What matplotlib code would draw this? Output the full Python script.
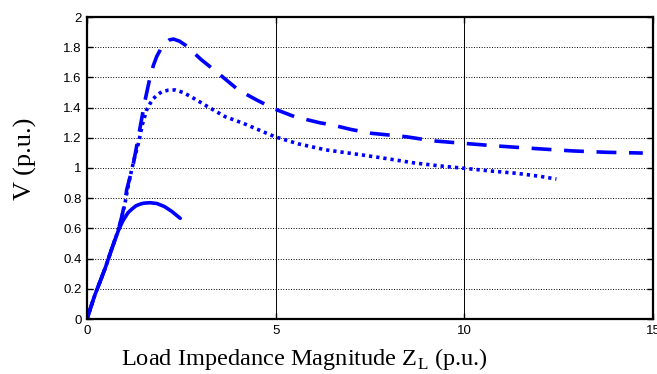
import matplotlib
matplotlib.use("Agg")
import matplotlib.pyplot as plt

# curves (x = |Z_L| in p.u., y = V in p.u.)
solid_x = [0, 0.1, 0.21, 0.35, 0.48, 0.65, 0.83, 0.95, 1.09, 1.2, 1.3, 1.4, 1.5, 1.67,
           1.85, 2.05, 2.25, 2.47]
solid_y = [0, 0.08, 0.16, 0.25, 0.335, 0.46, 0.585, 0.65, 0.705, 0.73, 0.75, 0.76, 0.767, 0.77,
           0.765, 0.745, 0.712, 0.667]

dash_x = [0, 0.21, 0.48, 0.65, 0.83, 0.92, 1.01, 1.05, 1.15, 1.23, 1.32, 1.43, 1.54, 1.67,
          1.76, 1.85, 1.96, 2.07, 2.18, 2.29, 2.45, 2.6, 3.04, 3.48, 4.01, 4.5, 4.98, 5.5,
          6.16, 6.5, 7.0, 7.53, 8.46, 9.16, 10.0, 10.75, 11.38, 12.17, 12.88, 13.77, 14.73]
dash_y = [0, 0.16, 0.335, 0.46, 0.59, 0.677, 0.777, 0.854, 0.95, 1.03, 1.15, 1.3, 1.45, 1.6,
          1.68, 1.74, 1.79, 1.826, 1.848, 1.854, 1.84, 1.815, 1.715, 1.627, 1.517, 1.45, 1.39, 1.34,
          1.30, 1.285, 1.255, 1.23, 1.207, 1.18, 1.163, 1.148, 1.137, 1.124, 1.113, 1.104, 1.099]

dot_x = [0, 0.21, 0.48, 0.65, 0.83, 0.92, 1.01, 1.06, 1.15, 1.25, 1.36, 1.47, 1.58, 1.68,
         1.76, 1.87, 1.98, 2.15, 2.33, 2.55, 2.77, 3.21, 3.66, 4.14, 4.98, 5.6, 6.33, 7.3,
         8.0, 8.63, 9.3, 10.0, 10.7, 11.38, 12.0, 12.44]
dot_y = [0, 0.16, 0.335, 0.46, 0.59, 0.67, 0.77, 0.84, 0.95, 1.06, 1.16, 1.29, 1.384, 1.43,
         1.46, 1.485, 1.505, 1.515, 1.517, 1.5, 1.47, 1.405, 1.34, 1.296, 1.207, 1.16, 1.12, 1.086,
         1.06, 1.035, 1.015, 0.998, 0.98, 0.965, 0.945, 0.927]

x_ticks = [0, 5, 10, 15]
y_ticks = [0, 0.2, 0.4, 0.6, 0.8, 1, 1.2, 1.4, 1.6, 1.8, 2]
y_ticklabels = ["0", "0.2", "0.4", "0.6", "0.8", "1", "1.2", "1.4", "1.6", "1.8", "2"]

plt.rcParams["mathtext.fontset"] = "custom"
plt.rcParams["mathtext.rm"] = "Liberation Serif"

fig = plt.figure(figsize=(6.57, 3.74), dpi=100)
ax = fig.add_axes([87 / 657, 1 - 319 / 374, 566 / 657, 302 / 374])

blue = "#0000ff"
ax.plot(solid_x, solid_y, color=blue, linewidth=2.6, solid_capstyle="round",
        solid_joinstyle="round")
ax.plot(dash_x, dash_y, color=blue, linewidth=2.6, linestyle=(0, (5.5, 3.5)),
        dash_joinstyle="round")
ax.plot(dot_x, dot_y, color=blue, linewidth=2.6, linestyle=(0, (0.9, 1.1)))

ax.set_xlim(0, 15)
ax.set_ylim(0, 2)
ax.set_xticks(x_ticks)
ax.set_yticks(y_ticks)
ax.set_yticklabels(y_ticklabels)

# grid: dotted horizontal, solid vertical
ax.grid(True, axis="y", linestyle=":", color="black", linewidth=0.7)
ax.grid(True, axis="x", linestyle="-", color="black", linewidth=0.7)
ax.set_axisbelow(True)

for s in ax.spines.values():
    s.set_linewidth(1.6)
ax.tick_params(direction="in", top=True, right=True, length=4, width=1,
               labelsize=9.5, pad=4)
for lbl in ax.get_xticklabels() + ax.get_yticklabels():
    lbl.set_fontfamily("Liberation Sans")

ax.set_xlabel("Load Impedance Magnitude Z$_{\\mathrm{L}}$ (p.u.)",
              fontfamily="Liberation Serif", fontsize=17.6)
ax.xaxis.set_label_coords(0.384, -0.09)
ax.set_ylabel("V (p.u.)", fontfamily="Liberation Serif", fontsize=19)
ax.yaxis.set_label_coords(-0.088, 0.53)

fig.savefig("out.png", dpi=100)
